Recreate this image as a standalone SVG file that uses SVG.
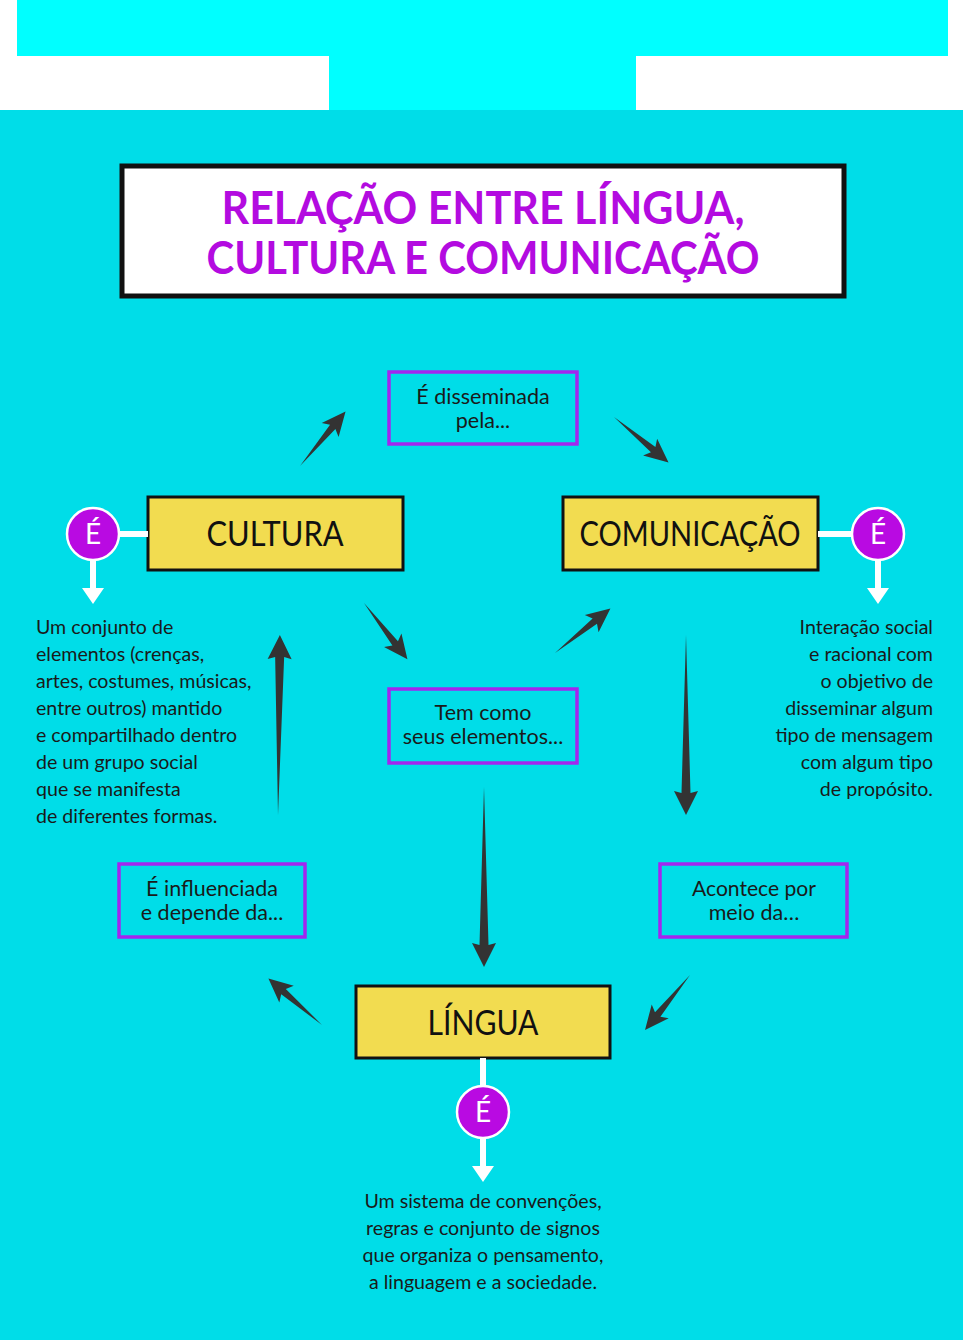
<svg xmlns="http://www.w3.org/2000/svg" xmlns:xlink="http://www.w3.org/1999/xlink" width="965" height="1340" viewBox="0 0 965 1340">
<style>
.lbl{font-family:Lato,"Noto Sans",sans-serif;font-size:21.5px;fill:#1a1a1a;text-anchor:middle}
.desc{font-family:Lato,"Noto Sans",sans-serif;font-size:19.6px;fill:#1a1a1a}
.main{font-family:Lato,"Noto Sans",sans-serif;font-size:34px;fill:#111;text-anchor:middle}
.ttl{font-family:Lato,"Noto Sans",sans-serif;font-weight:bold;font-size:46px;fill:#B30BE0;text-anchor:middle}
.pbox{fill:none;stroke:#A326EE;stroke-width:3.5}
.ybox{fill:#F2DC50;stroke:#111;stroke-width:3}
.circ{fill:#B90AE2;stroke:#fff;stroke-width:2.5}
.e{font-family:Lato,"Noto Sans",sans-serif;font-size:28px;fill:#fff;text-anchor:middle}
.wl{stroke:#fff;stroke-width:6;fill:none}
.arr{fill:#333}
</style>
<defs>
<path id="ad" d="M0,0 L51,-3.5 L47,-11 L71,0 L47,11 L51,3.5 Z"/>
<path id="al" d="M0,0 L158,-4.5 L156,-12 L180,0 L156,12 L158,4.5 Z"/>
<path id="wa" d="M-11,0 L11,0 L0,16 Z"/>
</defs>
<rect x="0" y="0" width="965" height="1340" fill="#fff"/>
<rect x="17" y="0" width="931" height="56" fill="#00FFFF"/>
<rect x="329" y="55" width="307" height="56" fill="#00FFFF"/>
<rect x="0" y="110" width="963" height="1230" fill="#00DDE8"/>

<g id="title">
<rect x="122" y="166" width="722" height="130" fill="#fff" stroke="#111" stroke-width="5"/>
<text class="ttl" x="483" y="224" textLength="523" lengthAdjust="spacingAndGlyphs">RELAÇÃO ENTRE LÍNGUA,</text>
<text class="ttl" x="483" y="274" textLength="553" lengthAdjust="spacingAndGlyphs">CULTURA E COMUNICAÇÃO</text>
</g>

<g id="connectors" class="arr">
<use xlink:href="#ad" transform="translate(300,466) rotate(-50.1)"/>
<use xlink:href="#ad" transform="translate(614,417) rotate(39.8)"/>
<use xlink:href="#ad" transform="translate(364,603) rotate(52.3)"/>
<use xlink:href="#ad" transform="translate(555,653) rotate(-38.7)"/>
<use xlink:href="#ad" transform="translate(690,975) rotate(129.3)"/>
<use xlink:href="#ad" transform="translate(322,1025) rotate(-139)"/>
<use xlink:href="#al" transform="translate(686,635) rotate(90)"/>
<use xlink:href="#al" transform="translate(278,815) rotate(-89.4)"/>
<use xlink:href="#al" transform="translate(484,787) rotate(90)"/>
</g>

<g id="disseminada">
<rect class="pbox" x="389" y="372" width="188" height="72"/>
<text class="lbl" x="483" y="404">É disseminada</text>
<text class="lbl" x="483" y="428">pela...</text>
</g>
<g id="elementos">
<rect class="pbox" x="389" y="689" width="188" height="74"/>
<text class="lbl" x="483" y="720">Tem como</text>
<text class="lbl" x="483" y="744">seus elementos...</text>
</g>
<g id="influenciada">
<rect class="pbox" x="119" y="864" width="186" height="73"/>
<text class="lbl" x="212" y="896">É influenciada</text>
<text class="lbl" x="212" y="920">e depende da...</text>
</g>
<g id="acontece">
<rect class="pbox" x="660" y="864" width="187" height="73"/>
<text class="lbl" x="754" y="896" textLength="124" lengthAdjust="spacingAndGlyphs">Acontece por</text>
<text class="lbl" x="754" y="920">meio da…</text>
</g>

<g id="cultura">
<rect class="ybox" x="148" y="497" width="255" height="73"/>
<text class="main" x="275" y="546" textLength="137" lengthAdjust="spacingAndGlyphs">CULTURA</text>
</g>
<g id="comunicacao">
<rect class="ybox" x="563" y="497" width="255" height="73"/>
<text class="main" x="690" y="546" textLength="221" lengthAdjust="spacingAndGlyphs">COMUNICAÇÃO</text>
</g>
<g id="lingua">
<rect class="ybox" x="356" y="986" width="254" height="72"/>
<text class="main" x="483" y="1035" textLength="111" lengthAdjust="spacingAndGlyphs">LÍNGUA</text>
</g>

<g id="e-cultura">
<line class="wl" x1="118" y1="534" x2="148" y2="534"/>
<line class="wl" x1="93" y1="559" x2="93" y2="590"/>
<use xlink:href="#wa" fill="#fff" transform="translate(93,588)"/>
<circle class="circ" cx="93" cy="534" r="26"/>
<text class="e" x="93" y="544">É</text>
</g>
<g id="e-comunicacao">
<line class="wl" x1="818" y1="534" x2="853" y2="534"/>
<line class="wl" x1="878" y1="559" x2="878" y2="590"/>
<use xlink:href="#wa" fill="#fff" transform="translate(878,588)"/>
<circle class="circ" cx="878" cy="534" r="26"/>
<text class="e" x="878" y="544">É</text>
</g>
<g id="e-lingua">
<line class="wl" x1="483" y1="1058" x2="483" y2="1088"/>
<line class="wl" x1="483" y1="1136" x2="483" y2="1168"/>
<use xlink:href="#wa" fill="#fff" transform="translate(483,1166)"/>
<circle class="circ" cx="483" cy="1112" r="26"/>
<text class="e" x="483" y="1122">É</text>
</g>

<g id="desc-cultura" class="desc">
<text x="36" y="634">Um conjunto de</text>
<text x="36" y="661">elementos (crenças,</text>
<text x="36" y="688">artes, costumes, músicas,</text>
<text x="36" y="715">entre outros) mantido</text>
<text x="36" y="742">e compartilhado dentro</text>
<text x="36" y="769">de um grupo social</text>
<text x="36" y="796">que se manifesta</text>
<text x="36" y="823">de diferentes formas.</text>
</g>
<g id="desc-comunicacao" class="desc" text-anchor="end">
<text x="933" y="634">Interação social</text>
<text x="933" y="661">e racional com</text>
<text x="933" y="688">o objetivo de</text>
<text x="933" y="715">disseminar algum</text>
<text x="933" y="742">tipo de mensagem</text>
<text x="933" y="769">com algum tipo</text>
<text x="933" y="796">de propósito.</text>
</g>
<g id="desc-lingua" class="desc" text-anchor="middle">
<text x="483" y="1208">Um sistema de convenções,</text>
<text x="483" y="1235">regras e conjunto de signos</text>
<text x="483" y="1262">que organiza o pensamento,</text>
<text x="483" y="1289">a linguagem e a sociedade.</text>
</g>
</svg>
